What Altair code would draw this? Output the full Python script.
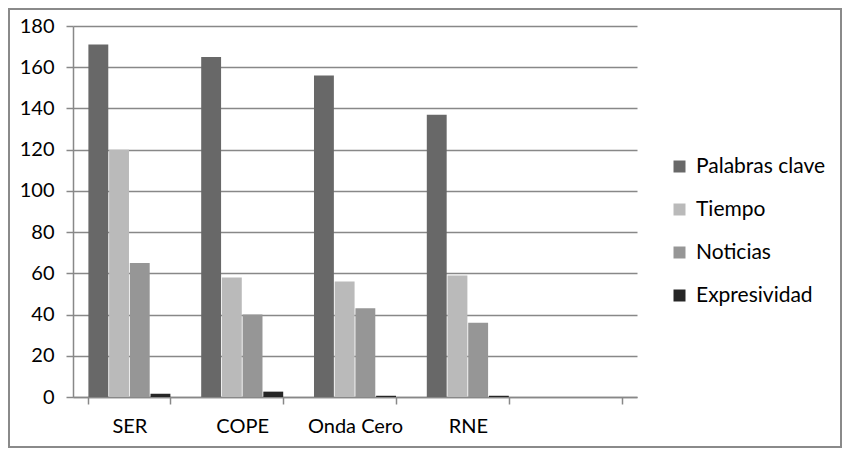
import altair as alt
import pandas as pd

stations = ["SER", "COPE", "Onda Cero", "RNE"]
axis_slots = ["SER", "COPE", "Onda Cero", "RNE", " "]
series = ["Palabras clave", "Tiempo", "Noticias", "Expresividad"]
colors = ["#686868", "#BABABA", "#969696", "#262626"]

palabras_clave = [171, 165, 156, 137]
tiempo = [120, 58, 56, 59]
noticias = [65, 40, 43, 36]
expresividad = [1.6, 2.6, 0.6, 0.6]

y_ticks = [0, 20, 40, 60, 80, 100, 120, 140, 160, 180]

rows = []
for s, vals in zip(series, [palabras_clave, tiempo, noticias, expresividad]):
    for st, v in zip(stations, vals):
        rows.append({"station": st, "series": s, "value": v})
df = pd.DataFrame(rows)

FONT = "Lato"
FS = 20
W, H = 564, 371
PAD_L, PAD_T = 65, 18
TOT_W, TOT_H = 834, 440

bars = alt.Chart(df).mark_bar(clip=False).encode(
    x=alt.X(
        "station:N",
        scale=alt.Scale(domain=axis_slots, paddingInner=0.273, paddingOuter=0.1365),
        axis=alt.Axis(
            title=None,
            labelAngle=0,
            labelFontSize=FS,
            labelFont=FONT,
            labelColor="#000000",
            labelPadding=12,
            tickBand="extent",
            tickSize=7,
            tickColor="#888888",
            tickWidth=1.5,
            domainColor="#888888",
            domainWidth=1.5,
            grid=False,
        ),
    ),
    xOffset=alt.XOffset("series:N", sort=series, scale=alt.Scale(paddingInner=0.04)),
    y=alt.Y(
        "value:Q",
        scale=alt.Scale(domain=[0, 180], nice=False),
        axis=alt.Axis(
            title=None,
            values=y_ticks,
            labelFontSize=FS,
            labelFont=FONT,
            labelColor="#000000",
            labelPadding=12,
            tickSize=7,
            tickColor="#888888",
            tickWidth=1.5,
            domainColor="#888888",
            domainWidth=1.5,
            grid=True,
            gridColor="#888888",
            gridWidth=1.5,
        ),
    ),
    color=alt.Color(
        "series:N",
        sort=series,
        scale=alt.Scale(domain=series, range=colors),
        legend=alt.Legend(
            title=None,
            orient="none",
            legendX=596,
            legendY=130,
            symbolType="square",
            symbolSize=144,
            symbolStrokeWidth=0,
            labelFontSize=21,
            labelFont=FONT,
            labelColor="#000000",
            rowPadding=21,
            labelOffset=6,
        ),
    ),
)

border = alt.Chart(alt.Data(values=[{"a": 1}])).mark_rect(
    fill="white", fillOpacity=0, stroke="#8a8a8a", strokeWidth=2
).encode(
    x=alt.value(-PAD_L + 1),
    x2=alt.value(TOT_W - PAD_L - 1),
    y=alt.value(-PAD_T + 1),
    y2=alt.value(TOT_H - PAD_T - 1),
)

chart = alt.layer(bars, border).properties(
    width=W,
    height=H,
    autosize=alt.AutoSizeParams(type="none"),
    padding={"left": PAD_L, "top": PAD_T, "right": TOT_W - PAD_L - W, "bottom": TOT_H - PAD_T - H},
).configure(background="white").configure_view(stroke="transparent", strokeWidth=0)

chart.save("out.html", embed_options={"renderer": "svg", "actions": False})
